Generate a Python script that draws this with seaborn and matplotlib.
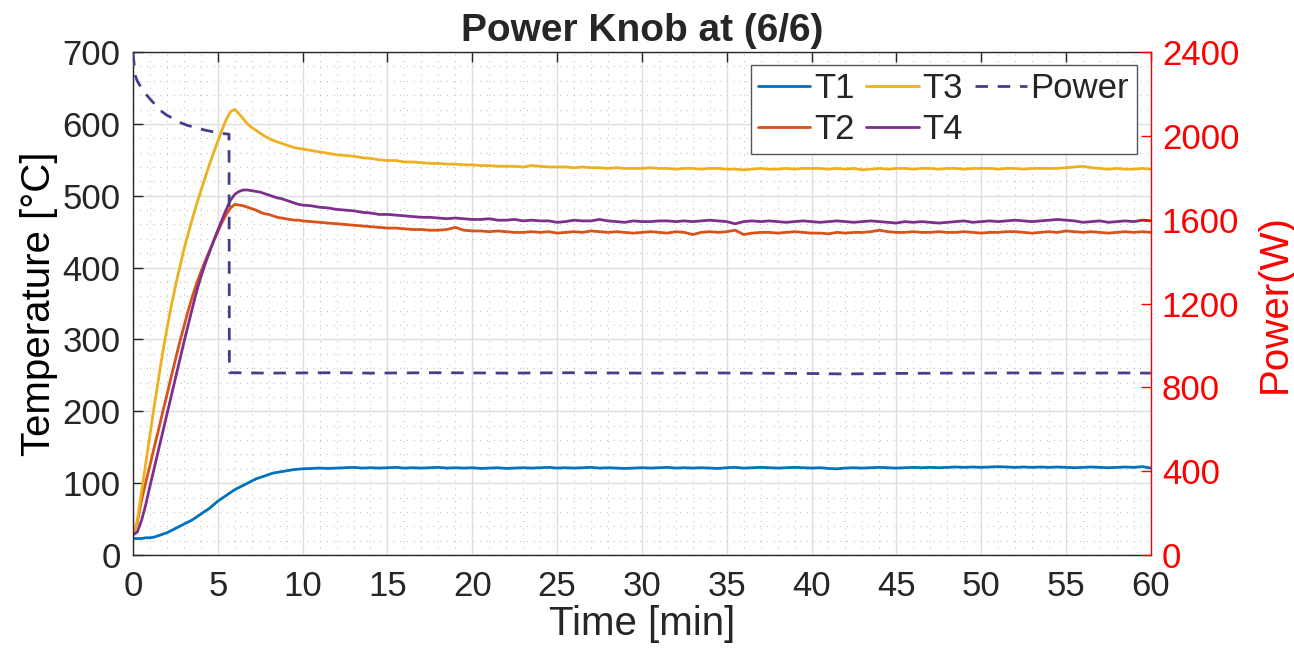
import matplotlib
matplotlib.use("Agg")
import matplotlib.pyplot as plt
from matplotlib.ticker import MultipleLocator
import seaborn as sns
import numpy as np

# sample times: every 0.25 min up to 10 min, then every 0.5 min
t_temp = np.r_[np.arange(40) * 0.25, 10 + np.arange(101) * 0.5]

T1 = [23, 23, 23, 24, 24, 25, 27, 29, 31, 34,
      37, 40, 43, 46, 49, 53, 57, 61, 65, 70,
      75, 79, 83, 87, 91, 94, 97, 100, 103, 106,
      108, 110, 112, 114, 115, 116, 117, 118, 119, 119.5,
      120, 120.5, 121, 120.5, 121, 121.5, 122, 121, 121.5, 121,
      121.5, 122, 121, 121.5, 121, 121.5, 122, 121, 121.5, 121,
      121.5, 120.5, 121, 121.5, 120.5, 121, 121.5, 121, 121.5, 122,
      121, 121.5, 121, 121.5, 122, 121, 121.5, 121, 120.5, 121,
      121.5, 121, 121.5, 122, 121, 121.5, 121, 121.5, 121, 120.5,
      121.5, 122, 121, 121.5, 122, 121.5, 121, 121.5, 122, 121.5,
      121, 121.5, 120.5, 120, 121, 121.5, 121, 121.5, 122, 121.5,
      121, 121.5, 122, 121.5, 122, 121.5, 122, 122.5, 122, 122.5,
      122, 122.5, 123, 122.5, 122, 122.5, 122, 122.5, 122, 122.5,
      122, 121.5, 122, 122.5, 122, 121.5, 122, 122.5, 122, 123,
      121]

T2 = [30, 45, 76, 101, 125, 150, 174, 199, 223, 248,
      272, 296, 318, 340, 360, 378, 394, 409, 423, 437,
      450, 463, 474, 483, 488, 487, 486, 484, 482, 480,
      477, 475, 474, 472, 470, 469, 468, 467, 466, 466,
      465, 464, 463, 462, 461, 460, 459, 458, 457, 456,
      455, 455, 454, 453, 453, 452, 452, 453, 456, 452,
      451, 451, 450, 451, 450, 449, 449, 450, 449, 450,
      448, 449, 450, 449, 451, 450, 449, 450, 449, 448,
      449, 450, 449, 448, 450, 449, 446, 449, 450, 449,
      450, 452, 446, 448, 449, 449, 448, 449, 450, 449,
      448, 448, 447, 449, 448, 449, 449, 450, 452, 450,
      449, 449, 450, 449, 449, 450, 449, 449, 450, 449,
      448, 449, 449, 450, 450, 449, 448, 449, 450, 449,
      451, 450, 449, 450, 449, 448, 449, 450, 449, 450,
      449]

T3 = [28, 48, 88, 128, 168, 207, 245, 282, 315, 346,
      374, 400, 425, 447, 468, 488, 507, 525, 543, 560,
      576, 592, 606, 617, 620, 614, 607, 600, 595, 591,
      587, 583, 580, 577, 575, 573, 571, 569, 567, 566,
      565, 563, 561, 559, 557, 556, 555, 553, 552, 550,
      549, 549, 547, 547, 546, 545, 545, 544, 544, 543,
      543, 542, 542, 541, 541, 541, 540, 542, 541, 540,
      540, 540, 539, 540, 539, 539, 538, 539, 538, 538,
      538, 539, 538, 538, 537, 538, 538, 537, 538, 538,
      537, 537, 536, 537, 538, 537, 537, 538, 537, 538,
      538, 538, 537, 538, 537, 538, 536, 537, 538, 537,
      538, 538, 537, 538, 538, 537, 538, 538, 537, 538,
      538, 538, 537, 538, 538, 537, 538, 538, 538, 538,
      539, 540, 541, 539, 538, 537, 538, 537, 537, 538,
      537]

T4 = [28, 32, 48, 70, 96, 121, 146, 171, 196, 221,
      246, 271, 296, 320, 344, 367, 387, 405, 421, 437,
      452, 467, 481, 494, 502, 506, 508, 508, 507, 506,
      505, 503, 501, 499, 497, 496, 494, 492, 490, 488,
      487, 486, 484, 483, 481, 480, 479, 477, 476, 474,
      474, 473, 472, 471, 470, 470, 469, 468, 469, 468,
      467, 467, 468, 466, 466, 467, 465, 466, 465, 465,
      463, 464, 466, 465, 465, 467, 465, 464, 463, 465,
      464, 464, 465, 465, 464, 465, 464, 465, 466, 465,
      464, 461, 464, 465, 464, 465, 464, 463, 464, 465,
      464, 463, 464, 465, 464, 463, 464, 465, 464, 463,
      462, 464, 463, 464, 463, 462, 463, 464, 465, 463,
      464, 465, 464, 465, 466, 465, 464, 465, 466, 467,
      466, 465, 463, 464, 465, 463, 464, 465, 464, 466,
      465]

t_power = [0, 0.05, 0.12, 0.25, 0.41, 0.6, 0.8, 1.0, 1.3, 1.6,
           2.0, 2.3, 2.7, 3.2, 3.7, 4.2, 4.7, 5.2, 5.66, 5.68,
           6, 8, 10, 12, 14, 16, 18, 20, 22, 24,
           26, 28, 30, 32, 34, 36, 38, 40, 42, 44,
           46, 48, 50, 52, 54, 56, 58, 60]
power = [2395, 2355, 2290, 2262, 2240, 2215, 2195, 2176, 2150, 2122,
         2098, 2086, 2066, 2050, 2040, 2028, 2020, 2012, 2008, 870,
         870, 868, 869, 870, 868, 869, 870, 869, 868, 869,
         870, 869, 868, 868, 869, 868, 867, 866, 864, 866,
         867, 868, 868, 869, 868, 868, 869, 868]

colors = {"T1": "#0072BD", "T2": "#D95319", "T3": "#EDB120", "T4": "#7E2F8E"}
power_color = "#483D8B"
dark = "#262626"

sns.set_theme(style="white")
plt.rcParams["font.family"] = ["Liberation Sans", "DejaVu Sans"]

fig = plt.figure(figsize=(12.94, 6.61), dpi=100)
ax = fig.add_axes([0.1028, 0.1603, 0.7865, 0.761])
ax2 = ax.twinx()

for name, vals in [("T1", T1), ("T2", T2), ("T3", T3), ("T4", T4)]:
    sns.lineplot(x=t_temp, y=vals, ax=ax, color=colors[name], lw=2.0,
                 label=name, estimator=None, legend=False)
sns.lineplot(x=t_power, y=power, ax=ax2, color=power_color, lw=2.0,
             linestyle=(0, (4.5, 3.5)), label="Power", estimator=None,
             sort=False, legend=False)

ax.set_xlim(0, 60)
ax.set_ylim(0, 700)
ax2.set_ylim(0, 2400)
ax.set_xticks(range(0, 61, 5))
ax.set_yticks(range(0, 701, 100))
ax2.set_yticks(range(0, 2401, 400))
ax.xaxis.set_minor_locator(MultipleLocator(1))
ax.yaxis.set_minor_locator(MultipleLocator(20))

ax.grid(which="major", color="#dedede", lw=1.0)
ax.grid(which="minor", color="#c4c4c4", ls=(0, (1, 5)), lw=0.8)
ax.set_axisbelow(True)

ax.tick_params(which="major", direction="in", length=7, width=1,
               colors=dark, labelsize=25, top=True)
ax.tick_params(axis="x", pad=11)
ax.tick_params(axis="y", pad=9)
ax.tick_params(which="minor", length=0)
ax2.tick_params(which="major", direction="in", length=7, width=1,
                colors="red", labelsize=25, pad=8)

for s in ["left", "bottom", "top"]:
    ax.spines[s].set_color(dark)
    ax.spines[s].set_linewidth(1)
ax.spines["right"].set_visible(False)
for s in ["left", "bottom", "top"]:
    ax2.spines[s].set_visible(False)
ax2.spines["right"].set_color("red")
ax2.spines["right"].set_linewidth(1)

ax.set_xlabel("Time [min]", fontsize=29, color=dark, labelpad=1)
ax.set_ylabel("Temperature [°C]", fontsize=29, color="black", labelpad=3)
ax2.set_ylabel("Power(W)", fontsize=29, color="red", labelpad=12)
ax.set_title("Power Knob at (6/6)", fontsize=28, fontweight="bold", pad=8)

handles = ax.get_lines()[:4] + ax2.get_lines()[:1]
leg = ax2.legend(handles, ["T1", "T2", "T3", "T4", "Power"], ncol=3,
                 loc="upper right", bbox_to_anchor=(0.986, 0.975),
                 fontsize=25, frameon=True, fancybox=False, framealpha=1,
                 edgecolor="#555555", handlelength=1.5, handletextpad=0.1,
                 columnspacing=0.35, labelspacing=0.22, borderpad=0.22,
                 borderaxespad=0)
leg.get_frame().set_linewidth(1)

fig.savefig("out.png", dpi=100)
